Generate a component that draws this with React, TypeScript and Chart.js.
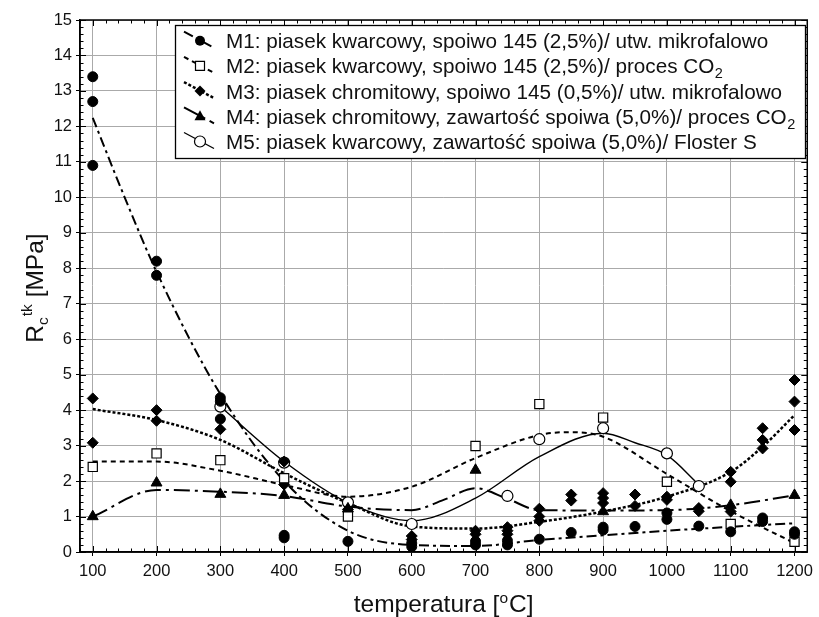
import React, { useEffect, useRef } from 'react';
import { Chart, registerables } from 'chart.js';

Chart.register(...registerables);

const FONT = '"Liberation Sans", Arial, Helvetica, sans-serif';

// axis ticks
const xTicks = [100, 200, 300, 400, 500, 600, 700, 800, 900, 1000, 1100, 1200];
const yTicks = [0, 1, 2, 3, 4, 5, 6, 7, 8, 9, 10, 11, 12, 13, 14, 15];

// legend labels
const legendLabels = [
  'M1: piasek kwarcowy, spoiwo 145 (2,5%)/ utw. mikrofalowo',
  'M2: piasek kwarcowy, spoiwo 145 (2,5%)/ proces CO',
  'M3: piasek chromitowy, spoiwo 145 (0,5%)/ utw. mikrofalowo',
  'M4: piasek chromitowy, zawartość spoiwa (5,0%)/ proces CO',
  'M5: piasek kwarcowy, zawartość spoiwa (5,0%)/ Floster S',
];
const legendSubscripts = ['', '2', '', '2', ''];

// M1 measured points (filled circles)
const m1X = [100, 100, 100, 200, 200, 300, 300, 300, 400, 400, 500, 600, 600, 700, 700, 750, 750, 800, 850, 900, 900, 950, 1000, 1000, 1050, 1100, 1150, 1150, 1200, 1200];
const m1Y = [13.4, 12.7, 10.9, 8.2, 7.8, 4.35, 4.25, 3.75, 0.47, 0.4, 0.3, 0.25, 0.15, 0.3, 0.2, 0.32, 0.2, 0.36, 0.55, 0.7, 0.62, 0.72, 1.1, 0.92, 0.73, 0.57, 0.96, 0.86, 0.57, 0.5];
// M1 fitted curve
const m1CurveX = [100, 150, 200, 300, 400, 500, 600, 700, 800, 900, 1000, 1100, 1200];
const m1CurveY = [12.24, 10.0, 7.9, 4.45, 2.0, 0.6, 0.2, 0.17, 0.34, 0.47, 0.6, 0.71, 0.81];

// M2 measured points (open squares)
const m2X = [100, 200, 300, 400, 500, 700, 800, 900, 1000, 1100, 1200];
const m2Y = [2.4, 2.78, 2.59, 2.08, 1.0, 2.99, 4.17, 3.79, 1.98, 0.79, 0.29];
const m2CurveX = [100, 200, 300, 400, 500, 600, 700, 800, 850, 900, 1000, 1100, 1200];
const m2CurveY = [2.55, 2.55, 2.29, 1.89, 1.56, 1.84, 2.65, 3.3, 3.38, 3.25, 2.2, 1.15, 0.25];

// M3 measured points (filled diamonds)
const m3X = [100, 100, 200, 200, 300, 400, 400, 500, 600, 600, 700, 700, 750, 750, 750, 800, 800, 800, 850, 850, 900, 900, 900, 950, 950, 1000, 1000, 1050, 1050, 1100, 1100, 1100, 1150, 1150, 1150, 1200, 1200, 1200];
const m3Y = [4.33, 3.08, 4.0, 3.7, 3.46, 2.55, 1.9, 1.2, 0.45, 0.35, 0.6, 0.5, 0.7, 0.6, 0.5, 1.22, 1.0, 0.88, 1.62, 1.45, 1.66, 1.52, 1.38, 1.62, 1.3, 1.56, 1.47, 1.24, 1.15, 2.26, 1.98, 1.14, 3.49, 3.16, 2.92, 4.85, 4.24, 3.44];
const m3CurveX = [100, 200, 300, 400, 500, 600, 700, 800, 900, 1000, 1100, 1150, 1200];
const m3CurveY = [4.03, 3.72, 3.16, 2.22, 1.38, 0.72, 0.66, 0.85, 1.14, 1.56, 2.26, 2.97, 3.86];

// M4 measured points (filled triangles)
const m4X = [100, 200, 300, 400, 500, 700, 900, 1100, 1200];
const m4Y = [1.0, 1.95, 1.63, 1.6, 1.22, 2.31, 1.14, 1.32, 1.6];
const m4CurveX = [100, 200, 300, 400, 500, 600, 650, 700, 750, 800, 900, 1000, 1100, 1200];
const m4CurveY = [1.0, 1.75, 1.7, 1.58, 1.28, 1.18, 1.47, 1.8, 1.5, 1.18, 1.17, 1.18, 1.32, 1.6];

// M5 measured points (open circles)
const m5X = [300, 400, 500, 600, 750, 800, 900, 1000, 1050];
const m5Y = [4.1, 2.52, 1.4, 0.79, 1.58, 3.18, 3.49, 2.78, 1.86];
const m5CurveX = [300, 400, 500, 600, 700, 800, 900, 950, 1000, 1050];
const m5CurveY = [4.1, 2.55, 1.39, 0.88, 1.52, 2.69, 3.35, 3.08, 2.73, 1.9];

const dashes = [[10, 4, 3, 4], [5, 4], [3, 2], [16, 5, 3, 5], []];
const widths = [2, 2, 2.5, 2, 1.4];

const pts = (xs: number[], ys: number[]) => xs.map((x, i) => ({ x, y: ys[i] }));

function drawMarker(ctx: CanvasRenderingContext2D, kind: number, x: number, y: number) {
  ctx.save();
  ctx.setLineDash([]);
  ctx.lineWidth = 1.2;
  ctx.strokeStyle = '#000';
  ctx.beginPath();
  if (kind === 0) {
    ctx.arc(x, y, 5, 0, Math.PI * 2);
    ctx.fillStyle = '#000';
    ctx.fill();
  } else if (kind === 1) {
    ctx.rect(x - 4.5, y - 4.5, 9, 9);
    ctx.fillStyle = '#fff';
    ctx.fill();
    ctx.stroke();
  } else if (kind === 2) {
    ctx.moveTo(x, y - 5.5);
    ctx.lineTo(x + 5.5, y);
    ctx.lineTo(x, y + 5.5);
    ctx.lineTo(x - 5.5, y);
    ctx.closePath();
    ctx.fillStyle = '#000';
    ctx.fill();
  } else if (kind === 3) {
    ctx.moveTo(x, y - 6);
    ctx.lineTo(x + 5.5, y + 4);
    ctx.lineTo(x - 5.5, y + 4);
    ctx.closePath();
    ctx.fillStyle = '#000';
    ctx.fill();
  } else {
    ctx.arc(x, y, 5.5, 0, Math.PI * 2);
    ctx.fillStyle = '#fff';
    ctx.fill();
    ctx.stroke();
  }
  ctx.restore();
}

const framePlugin = {
  id: 'framePlugin',
  afterDraw(chart: any) {
    const { ctx, chartArea: a, scales } = chart;
    const xs = scales.x;
    const ys = scales.y;
    ctx.save();
    // minor / major inward ticks on all sides
    ctx.strokeStyle = '#000';
    ctx.lineWidth = 1;
    ctx.setLineDash([]);
    ctx.beginPath();
    for (let v = 80; v <= 1220; v += 20) {
      const px = Math.round(xs.getPixelForValue(v)) + 0.5;
      const len = v % 100 === 0 ? 6 : 3.5;
      ctx.moveTo(px, a.bottom);
      ctx.lineTo(px, a.bottom - len);
      ctx.moveTo(px, a.top);
      ctx.lineTo(px, a.top + len);
    }
    for (let i = 0; i <= 75; i++) {
      const py = Math.round(ys.getPixelForValue(i / 5)) + 0.5;
      const len = i % 5 === 0 ? 6 : 3.5;
      ctx.moveTo(a.left, py);
      ctx.lineTo(a.left + len, py);
      ctx.moveTo(a.right, py);
      ctx.lineTo(a.right - len, py);
    }
    ctx.stroke();
    // frame
    ctx.lineWidth = 1.5;
    ctx.strokeRect(a.left, a.top, a.right - a.left, a.bottom - a.top);

    // legend
    const bx = 175, by = 25, bw = 630, bh = 133;
    ctx.fillStyle = '#fff';
    ctx.fillRect(bx, by, bw, bh);
    ctx.lineWidth = 1.3;
    ctx.strokeStyle = '#000';
    ctx.strokeRect(bx + 0.5, by + 0.5, bw, bh);
    for (let i = 0; i < legendLabels.length; i++) {
      const cy = 40.7 + i * 25.2;
      ctx.save();
      ctx.lineWidth = widths[i];
      ctx.setLineDash(dashes[i]);
      ctx.beginPath();
      ctx.moveTo(184, cy - 9);
      ctx.lineTo(214, cy + 7);
      ctx.stroke();
      ctx.restore();
      drawMarker(ctx, i, 200, cy);
      ctx.fillStyle = '#111';
      ctx.font = `20.7px ${FONT}`;
      ctx.textBaseline = 'alphabetic';
      ctx.textAlign = 'left';
      ctx.fillText(legendLabels[i], 226, cy + 7.4);
      if (legendSubscripts[i]) {
        const w = ctx.measureText(legendLabels[i]).width;
        ctx.font = `14.5px ${FONT}`;
        ctx.fillText(legendSubscripts[i], 226 + w + 0.5, cy + 12.5);
      }
    }

    // x axis title
    ctx.fillStyle = '#111';
    ctx.textBaseline = 'alphabetic';
    ctx.textAlign = 'left';
    const big = `24.5px ${FONT}`;
    const small = `15.5px ${FONT}`;
    ctx.font = big;
    const t1 = 'temperatura [';
    const t2 = 'C]';
    const w1 = ctx.measureText(t1).width;
    const w3 = ctx.measureText(t2).width;
    ctx.font = small;
    const w2 = ctx.measureText('o').width + 1;
    const total = w1 + w2 + w3;
    const sx = (a.left + a.right) / 2 - total / 2;
    const base = 612;
    ctx.font = big;
    ctx.fillText(t1, sx, base);
    ctx.font = small;
    ctx.fillText('o', sx + w1, base - 9.5);
    ctx.font = big;
    ctx.fillText(t2, sx + w1 + w2, base);

    // y axis title
    ctx.save();
    ctx.translate(43, 288);
    ctx.rotate(-Math.PI / 2);
    ctx.font = big;
    const r = 'R';
    const rest = ' [MPa]';
    const wr = ctx.measureText(r).width;
    const wrest = ctx.measureText(rest).width;
    ctx.font = small;
    const wc = ctx.measureText('c').width;
    const wtk = ctx.measureText('tk').width;
    const tot = wr + wc + wtk + 1 + wrest;
    let p = -tot / 2;
    ctx.font = big;
    ctx.fillText(r, p, 0);
    p += wr;
    ctx.font = small;
    ctx.fillText('c', p, 5);
    p += wc + 1;
    ctx.fillText('tk', p, -11.5);
    p += wtk;
    ctx.font = big;
    ctx.fillText(rest, p, 0);
    ctx.restore();

    ctx.restore();
  },
};

export default function App() {
  const ref = useRef<HTMLCanvasElement | null>(null);
  useEffect(() => {
    if (!ref.current) return;
    const pointDs = (data: any[], style: string, radius: number, fill: string) => ({
      type: 'line' as const,
      data,
      showLine: false,
      pointStyle: style,
      pointRadius: radius,
      pointBackgroundColor: fill,
      pointBorderColor: '#000',
      pointBorderWidth: fill === '#fff' ? 1.2 : 1,
      order: 0,
    });
    const lineDs = (data: any[], i: number) => ({
      type: 'line' as const,
      data,
      borderColor: '#000',
      borderWidth: widths[i],
      borderDash: dashes[i],
      pointRadius: 0,
      fill: false,
      cubicInterpolationMode: 'monotone' as const,
      order: 1,
    });
    const chart = new Chart(ref.current, {
      type: 'line',
      data: {
        datasets: [
          pointDs(pts(m1X, m1Y), 'circle', 5, '#000'),
          pointDs(pts(m2X, m2Y), 'rect', 6.5, '#fff'),
          pointDs(pts(m3X, m3Y), 'rectRot', 5.5, '#000'),
          pointDs(pts(m4X, m4Y), 'triangle', 6.3, '#000'),
          pointDs(pts(m5X, m5Y), 'circle', 5.5, '#fff'),
          lineDs(pts(m1CurveX, m1CurveY), 0),
          lineDs(pts(m2CurveX, m2CurveY), 1),
          lineDs(pts(m3CurveX, m3CurveY), 2),
          lineDs(pts(m4CurveX, m4CurveY), 3),
          lineDs(pts(m5CurveX, m5CurveY), 4),
        ] as any,
      },
      options: {
        responsive: false,
        devicePixelRatio: 1,
        animation: false,
        layout: { padding: { top: 20, right: 8, left: 0, bottom: 0 } },
        plugins: { legend: { display: false }, tooltip: { enabled: false } },
        scales: {
          x: {
            type: 'linear',
            min: 80,
            max: 1220,
            afterBuildTicks: (s: any) => {
              s.ticks = xTicks.map((v) => ({ value: v }));
            },
            afterFit: (s: any) => {
              s.height = 65;
            },
            grid: { color: '#aaa', lineWidth: 1, tickLength: 4, tickColor: '#000', drawTicks: true },
            border: { display: true, color: '#000', width: 1.5 },
            ticks: {
              font: { family: FONT, size: 16.5 },
              color: '#111',
              padding: 6,
              maxRotation: 0,
              autoSkip: false,
              callback: (v: any) => String(v),
            },
          },
          y: {
            type: 'linear',
            min: 0,
            max: 15,
            afterBuildTicks: (s: any) => {
              s.ticks = yTicks.map((v) => ({ value: v }));
            },
            afterFit: (s: any) => {
              s.width = 80;
            },
            grid: { color: '#aaa', lineWidth: 1, tickLength: 4, tickColor: '#000', drawTicks: true },
            border: { display: true, color: '#000', width: 1.5 },
            ticks: {
              font: { family: FONT, size: 16.5 },
              color: '#111',
              padding: 4,
              autoSkip: false,
              callback: (v: any) => String(v),
            },
          },
        },
      },
      plugins: [framePlugin],
    });
    return () => chart.destroy();
  }, []);
  return (
    <div style={{ position: 'fixed', left: 0, top: 0, width: 819, height: 617, background: '#fff' }}>
      <canvas ref={ref} width={819} height={617} style={{ display: 'block' }} />
    </div>
  );
}
